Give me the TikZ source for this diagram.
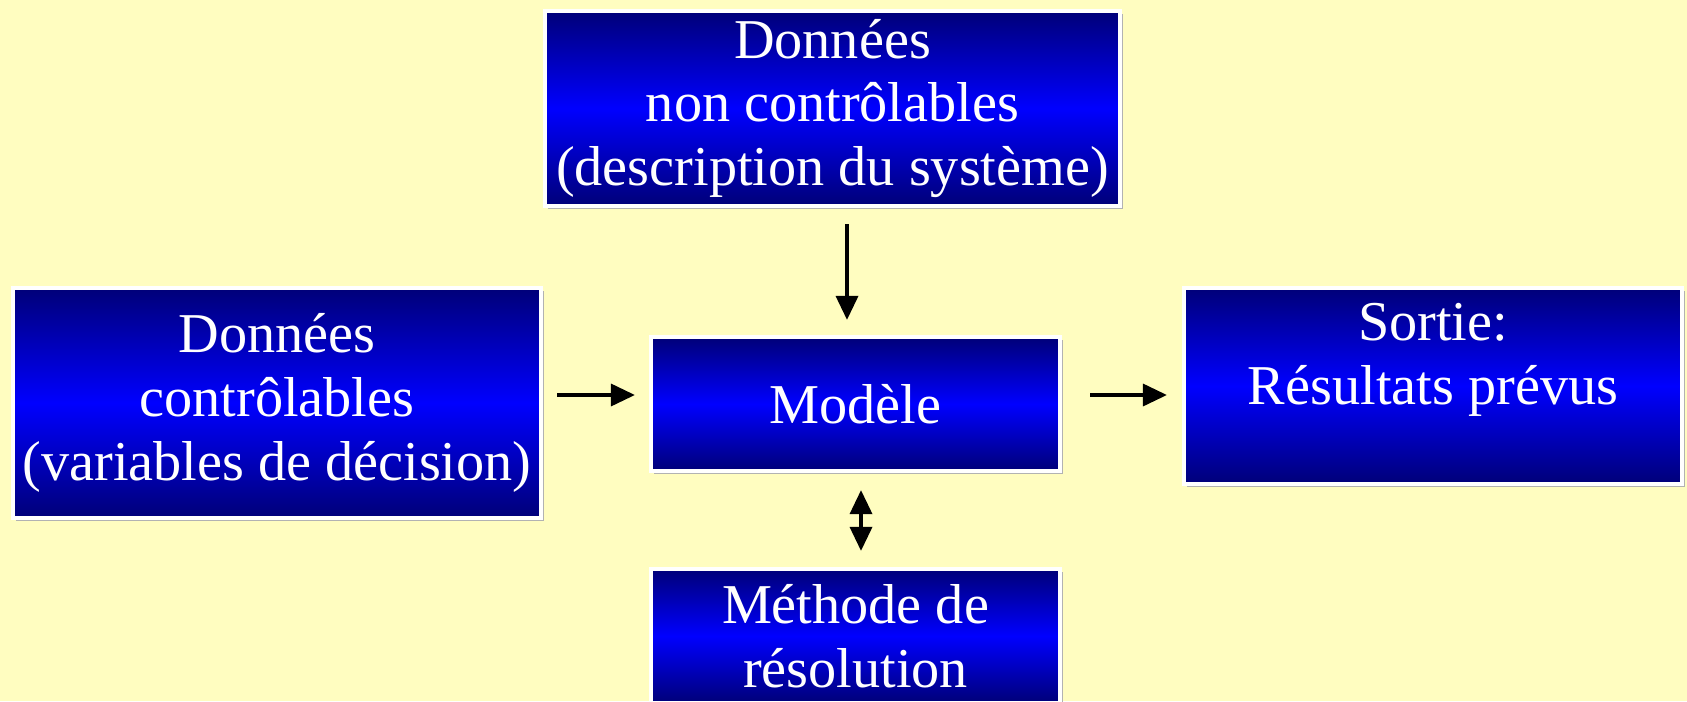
\documentclass[tikz,border=0pt]{standalone}
\usepackage{fontspec}
\setmainfont{Liberation Serif}
\usepackage{tikz}
\usetikzlibrary{arrows.meta, shadows}

\definecolor{bgyellow}{RGB}{255,253,192}
\definecolor{navyblue}{RGB}{0,0,120}
\definecolor{brightblue}{RGB}{0,0,255}

\begin{document}
\begin{tikzpicture}[
    box/.style={rectangle, draw=white, line width=1.2pt, top color=navyblue, bottom color=navyblue, middle color=brightblue,
        drop shadow={shadow xshift=0.9pt, shadow yshift=-0.9pt, fill=gray!60, opacity=1},
        text=white, align=center, inner sep=0pt, font=\fontsize{16}{18.2}\selectfont},
    arr/.style={-{Triangle[length=2.4mm,width=2.2mm]}, line width=1pt}]
    \useasboundingbox (0,0) rectangle (16.87,7.01);
    \fill[bgyellow] (0,0) rectangle (16.87,7.01);
    \node[box, minimum width=5.75cm, minimum height=1.95cm] (ncontr) at (8.325,5.925) {Données\\non contrôlables\\(description du système)};
    \node[box, minimum width=5.28cm, minimum height=2.30cm] (contr) at (2.77,2.98) {Données\\contrôlables\\(variables de décision)};
    \node[box, minimum width=4.09cm, minimum height=1.34cm] (modele) at (8.555,2.97) {Modèle};
    \node[box, minimum width=4.98cm, minimum height=1.96cm] (sortie) at (14.33,3.15) {Sortie:\\Résultats prévus\\\vphantom{R}};
    \node[box, minimum width=4.09cm, minimum height=1.34cm] (methode) at (8.555,0.65) {Méthode de\\résolution};
    \draw[arr, shorten <=0.16cm, shorten >=0.15cm] ([xshift=-0.085cm]modele.north |- ncontr.south) -- ([xshift=-0.085cm]modele.north);
    \draw[arr, shorten <=0.14cm, shorten >=0.14cm] ([yshift=0.09cm]modele.west -| contr.east) -- ([yshift=0.09cm]modele.west);
    \draw[arr, shorten <=0.28cm, shorten >=0.15cm] ([yshift=0.09cm]modele.east) -- ([yshift=0.09cm]modele.east -| sortie.west);
    \draw[arr, {Triangle[length=2.4mm,width=2.2mm]}-{Triangle[length=2.4mm,width=2.2mm]}, shorten <=0.17cm, shorten >=0.16cm] ([xshift=0.055cm]modele.south) -- ([xshift=0.055cm]modele.south |- methode.north);
\end{tikzpicture}
\end{document}
